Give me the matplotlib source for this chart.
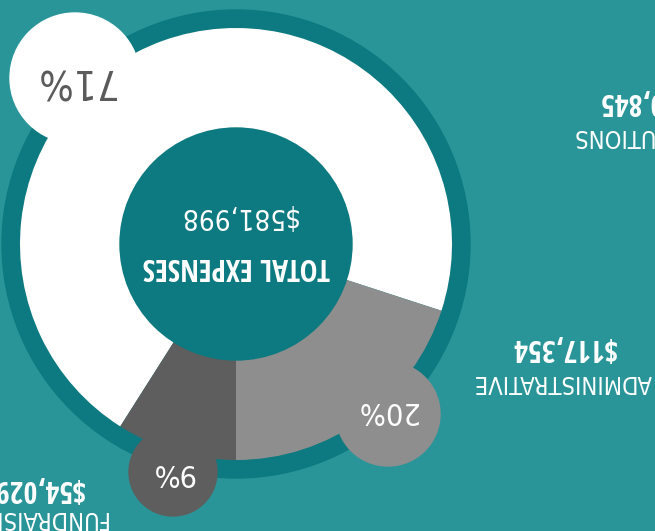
import matplotlib
matplotlib.use("Agg")
import matplotlib.pyplot as plt
import matplotlib.font_manager as fm
from matplotlib.patches import Circle

# data
categories = ["CONTRIBUTIONS", "ADMINISTRATIVE", "FUNDRAISING"]
amounts = ["$410,845", "$117,354", "$54,029"]
percents = [71, 20, 9]
total_label = "TOTAL EXPENSES"
total_amount = "$581,998"

# colours
bg = "#2A9599"
dark_teal = "#0C7A80"
slice_colors = ["#FFFFFF", "#8E8E8E", "#5E5E5E"]
pct_text_colors = ["#5A5A5A", "#FFFFFF", "#FFFFFF"]

# layout (pixel space, y down)
cx, cy = 236, 244
ring_r, pie_r, hole_r = 234, 216, 116
bubble_xy = [(75, 78), (388, 414), (173, 472)]
bubble_r = [65, 52, 44]
pct_xy = [(74, 80), (386, 410), (173, 472)]
pct_size = [29, 22, 22]
amount_xy = [(650, 101), (563, 347), (38, 488)]
cat_xy = [(661, 136), (563, 382), (33, 518)]


def _w(f):
    w = f.weight
    return fm.weight_dict.get(w, 400) if isinstance(w, str) else int(w)


def _narrow(f):
    return ("Condensed" in f.name or "Narrow" in f.name
            or f.stretch in ("condensed", "semi-condensed", "extra-condensed"))


fonts = fm.fontManager.ttflist
names = {f.name for f in fonts}

# bold condensed face
family, k = "Liberation Sans", 0.82
for cand in ["Open Sans Condensed", "Roboto Condensed", "Liberation Sans Narrow",
             "Noto Sans Condensed", "DejaVu Sans Condensed"]:
    if cand in names:
        family, k = cand, 1.0
        break

# thin condensed face for the other texts, else a thin normal-width one
thin = sorted([f for f in fonts if _narrow(f) and _w(f) <= 400], key=lambda f: -_w(f))
if thin:
    light = dict(family=[thin[0].name, "DejaVu Sans"], fontweight=_w(thin[0]),
                 fontstretch=thin[0].stretch)
    regular = light
    kl = 1.0
else:
    light = dict(family=["Roboto", "DejaVu Sans"], fontweight="light")
    regular = dict(family=["Roboto", "DejaVu Sans"], fontweight="normal")
    kl = 0.8
bold = dict(family=[family, "DejaVu Sans"], fontweight="bold")

plt.rcParams['font.family'] = [family, 'DejaVu Sans']

fig = plt.figure(figsize=(6.55, 5.31), dpi=100, facecolor=bg)
ax = fig.add_axes([0, 0, 1, 1])
ax.set_facecolor(bg)

ax.add_patch(Circle((cx, cy), ring_r, color=dark_teal, zorder=1))

# the whole graphic is drawn upside down, as in the source image
start = 90 + 360 * percents[2] / 100
ax.pie(percents, colors=slice_colors, radius=pie_r, center=(cx, cy),
       startangle=start, counterclock=True, frame=True,
       wedgeprops=dict(linewidth=0, zorder=2))

ax.add_patch(Circle((cx, cy), hole_r, color=dark_teal, zorder=3))

for (bx, by), r, c in zip(bubble_xy, bubble_r, slice_colors):
    ax.add_patch(Circle((bx, by), r, color=c, zorder=4))

for (px, py), p, s, c in zip(pct_xy, percents, pct_size, pct_text_colors):
    ax.text(px, py, f"{p}%", fontsize=s * kl, color=c, rotation=180,
            ha="center", va="center", zorder=5, **regular)

ax.text(236, 266, total_label, fontsize=21.5 * k, color="white",
        rotation=180, ha="center", va="center", zorder=5, **bold)
ax.text(237, 216, total_amount, fontsize=20 * kl, color="white",
        rotation=180, ha="center", va="center", zorder=5, **light)

for (ax_, ay), a in zip(amount_xy, amounts):
    ax.text(ax_, ay, a, fontsize=21.5 * k, color="white",
            rotation=180, ha="center", va="center", zorder=5, **bold)
for (tx, ty), cat in zip(cat_xy, categories):
    ax.text(tx, ty, cat, fontsize=17 * kl, color="white",
            rotation=180, ha="center", va="center", zorder=5, **light)

ax.set_xlim(0, 655)
ax.set_ylim(531, 0)
ax.set_aspect("equal")
ax.axis("off")

fig.savefig("out.png", dpi=100, facecolor=bg)
